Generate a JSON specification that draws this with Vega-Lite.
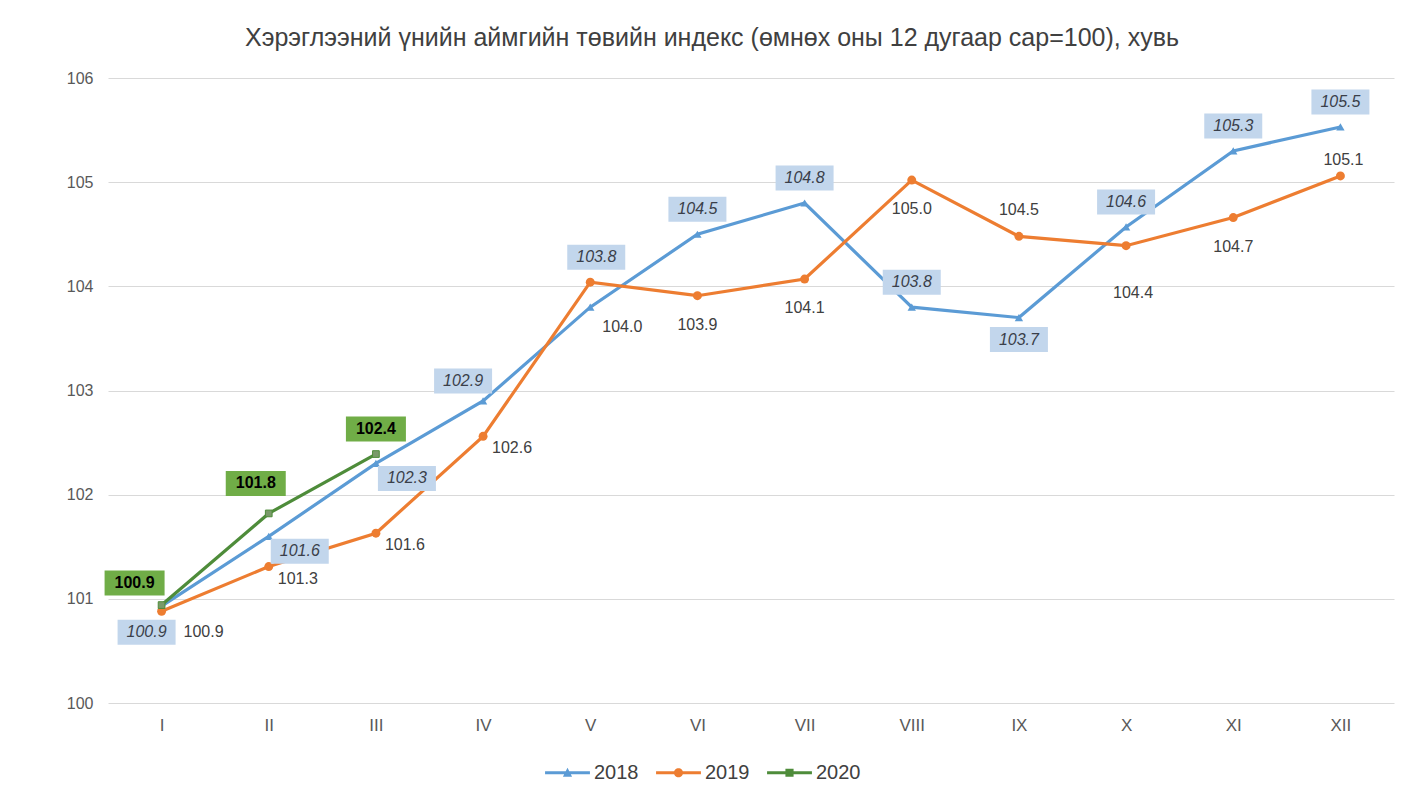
{
  "$schema": "https://vega.github.io/schema/vega-lite/v6.json",
  "width": 1286,
  "height": 625,
  "autosize": "none",
  "padding": {"left": 108, "top": 78, "right": 8, "bottom": 82},
  "background": "white",
  "config": {
    "font": "Liberation Sans",
    "view": {"stroke": null}
  },
  "title": {
    "text": "Хэрэглээний үнийн аймгийн төвийн индекс (өмнөх оны 12 дугаар сар=100), хувь",
    "fontSize": 25,
    "fontWeight": "normal",
    "color": "#404040",
    "font": "Liberation Sans",
    "anchor": "middle",
    "frame": "group",
    "dx": -39,
    "offset": 19
  },
  "data": {
    "values": [
      {"year": "2018", "m": "I", "n": 1, "v": 100.93},
      {"year": "2018", "m": "II", "n": 2, "v": 101.6},
      {"year": "2018", "m": "III", "n": 3, "v": 102.3},
      {"year": "2018", "m": "IV", "n": 4, "v": 102.9},
      {"year": "2018", "m": "V", "n": 5, "v": 103.8},
      {"year": "2018", "m": "VI", "n": 6, "v": 104.5},
      {"year": "2018", "m": "VII", "n": 7, "v": 104.8},
      {"year": "2018", "m": "VIII", "n": 8, "v": 103.8},
      {"year": "2018", "m": "IX", "n": 9, "v": 103.7},
      {"year": "2018", "m": "X", "n": 10, "v": 104.57},
      {"year": "2018", "m": "XI", "n": 11, "v": 105.3},
      {"year": "2018", "m": "XII", "n": 12, "v": 105.53},
      {"year": "2019", "m": "I", "n": 1, "v": 100.88},
      {"year": "2019", "m": "II", "n": 2, "v": 101.31},
      {"year": "2019", "m": "III", "n": 3, "v": 101.63},
      {"year": "2019", "m": "IV", "n": 4, "v": 102.56},
      {"year": "2019", "m": "V", "n": 5, "v": 104.04},
      {"year": "2019", "m": "VI", "n": 6, "v": 103.91},
      {"year": "2019", "m": "VII", "n": 7, "v": 104.07},
      {"year": "2019", "m": "VIII", "n": 8, "v": 105.02},
      {"year": "2019", "m": "IX", "n": 9, "v": 104.48},
      {"year": "2019", "m": "X", "n": 10, "v": 104.39},
      {"year": "2019", "m": "XI", "n": 11, "v": 104.66},
      {"year": "2019", "m": "XII", "n": 12, "v": 105.06},
      {"year": "2020", "m": "I", "n": 1, "v": 100.94},
      {"year": "2020", "m": "II", "n": 2, "v": 101.82},
      {"year": "2020", "m": "III", "n": 3, "v": 102.39}
    ]
  },
  "encoding": {
    "x": {
      "field": "m", "type": "ordinal",
      "sort": ["I", "II", "III", "IV", "V", "VI", "VII", "VIII", "IX", "X", "XI", "XII"],
      "scale": {"type": "point", "padding": 0.5},
      "title": null,
      "axis": {"labelAngle": 0, "ticks": false, "domain": false, "grid": false, "labelFontSize": 17, "labelColor": "#595959", "labelPadding": 14, "labelFont": "Liberation Sans"}
    },
    "y": {
      "field": "v", "type": "quantitative",
      "scale": {"domain": [100, 106], "zero": false, "nice": false},
      "title": null,
      "axis": {"values": [100, 101, 102, 103, 104, 105, 106], "format": "d", "ticks": false, "domain": false, "grid": true, "gridColor": "#D9D9D9", "gridWidth": 1, "labelFontSize": 16, "labelColor": "#595959", "labelPadding": 15, "labelFont": "Liberation Sans"}
    }
  },
  "layer": [
    {
      "mark": {"type": "line", "strokeWidth": 3.2},
      "encoding": {
        "color": {"field": "year", "type": "nominal", "scale": {"domain": ["2018", "2019", "2020"], "range": ["#5B9BD5", "#ED7D31", "#4E8C3A"]},
          "legend": {"orient": "none", "legendX": 449, "legendY": 684, "direction": "horizontal", "title": null, "padding": 0, "labelFontSize": 20, "labelColor": "#404040", "labelFont": "Liberation Sans", "symbolSize": 416, "symbolStrokeWidth": 0, "symbolOpacity": 1, "columnPadding": 17, "labelOffset": 16}},
        "order": {"field": "n", "type": "quantitative"}
      }
    },
    {
      "mark": {"type": "point", "filled": true, "opacity": 0, "size": 10},
      "encoding": {
        "color": {"field": "year", "type": "nominal"},
        "shape": {"field": "year", "type": "nominal", "scale": {"domain": ["2018", "2019", "2020"], "range": [
          "M-2.2,-0.14H2.2V0.14H-2.2Z M-0.45,0.4L0,-0.5L0.45,0.4Z",
          "M-2.2,-0.14H2.2V0.14H-2.2Z M-0.45,0A0.45,0.45 0 1,1 0.45,0A0.45,0.45 0 1,1 -0.45,0Z",
          "M-2.2,-0.14H2.2V0.14H-2.2Z M-0.4,-0.4H0.4V0.4H-0.4Z"
        ]},
          "legend": {"orient": "none", "legendX": 449, "legendY": 684, "direction": "horizontal", "title": null, "padding": 0, "labelFontSize": 20, "labelColor": "#404040", "labelFont": "Liberation Sans", "symbolSize": 416, "symbolStrokeWidth": 0, "symbolOpacity": 1, "columnPadding": 17, "labelOffset": 16}}
      }
    },
    {
      "transform": [{"filter": {"field": "year", "equal": "2018"}}],
      "mark": {"type": "point", "shape": "triangle-up", "filled": true, "size": 70, "color": "#5B9BD5", "opacity": 1}
    },
    {
      "transform": [{"filter": {"field": "year", "equal": "2019"}}],
      "mark": {"type": "point", "shape": "circle", "filled": true, "size": 80, "color": "#ED7D31", "opacity": 1}
    },
    {
      "transform": [{"filter": {"field": "year", "equal": "2020"}}],
      "mark": {"type": "point", "shape": "square", "filled": true, "size": 45, "color": "#7A9A6A", "stroke": "#4E8C3A", "strokeWidth": 1, "opacity": 1}
    },

    {"transform": [{"filter": {"and": [{"field": "year", "equal": "2018"}, {"field": "m", "oneOf": ["VI", "VII", "VIII", "X", "XI", "XII"]}]}}],
      "mark": {"type": "point", "shape": "M-2.9,-1.25H2.9V1.25H-2.9Z", "size": 400, "filled": true, "color": "#C2D6EC", "opacity": 1, "yOffset": -25}},
    {"transform": [{"filter": {"and": [{"field": "year", "equal": "2018"}, {"field": "m", "oneOf": ["VI", "VII", "VIII", "X", "XI", "XII"]}]}}],
      "mark": {"type": "text", "fontSize": 16, "fontStyle": "italic", "color": "#3A3F4A", "yOffset": -25},
      "encoding": {"text": {"field": "v", "type": "quantitative", "format": ".1f"}}},

    {"transform": [{"filter": {"and": [{"field": "year", "equal": "2018"}, {"field": "m", "equal": "IV"}]}}],
      "mark": {"type": "point", "shape": "M-2.9,-1.25H2.9V1.25H-2.9Z", "size": 400, "filled": true, "color": "#C2D6EC", "opacity": 1, "xOffset": -20, "yOffset": -20}},
    {"transform": [{"filter": {"and": [{"field": "year", "equal": "2018"}, {"field": "m", "equal": "IV"}]}}],
      "mark": {"type": "text", "fontSize": 16, "fontStyle": "italic", "color": "#3A3F4A", "xOffset": -20, "yOffset": -20},
      "encoding": {"text": {"field": "v", "type": "quantitative", "format": ".1f"}}},

    {"transform": [{"filter": {"and": [{"field": "year", "equal": "2018"}, {"field": "m", "equal": "V"}]}}],
      "mark": {"type": "point", "shape": "M-2.9,-1.25H2.9V1.25H-2.9Z", "size": 400, "filled": true, "color": "#C2D6EC", "opacity": 1, "xOffset": 6, "yOffset": -50}},
    {"transform": [{"filter": {"and": [{"field": "year", "equal": "2018"}, {"field": "m", "equal": "V"}]}}],
      "mark": {"type": "text", "fontSize": 16, "fontStyle": "italic", "color": "#3A3F4A", "xOffset": 6, "yOffset": -50},
      "encoding": {"text": {"field": "v", "type": "quantitative", "format": ".1f"}}},

    {"transform": [{"filter": {"and": [{"field": "year", "equal": "2018"}, {"field": "m", "oneOf": ["II", "III"]}]}}],
      "mark": {"type": "point", "shape": "M-2.9,-1.25H2.9V1.25H-2.9Z", "size": 400, "filled": true, "color": "#C2D6EC", "opacity": 1, "xOffset": 31, "yOffset": 15}},
    {"transform": [{"filter": {"and": [{"field": "year", "equal": "2018"}, {"field": "m", "oneOf": ["II", "III"]}]}}],
      "mark": {"type": "text", "fontSize": 16, "fontStyle": "italic", "color": "#3A3F4A", "xOffset": 31, "yOffset": 15},
      "encoding": {"text": {"field": "v", "type": "quantitative", "format": ".1f"}}},

    {"transform": [{"filter": {"and": [{"field": "year", "equal": "2018"}, {"field": "m", "equal": "I"}]}}],
      "mark": {"type": "point", "shape": "M-2.9,-1.25H2.9V1.25H-2.9Z", "size": 400, "filled": true, "color": "#C2D6EC", "opacity": 1, "xOffset": -15, "yOffset": 26}},
    {"transform": [{"filter": {"and": [{"field": "year", "equal": "2018"}, {"field": "m", "equal": "I"}]}}],
      "mark": {"type": "text", "fontSize": 16, "fontStyle": "italic", "color": "#3A3F4A", "xOffset": -15, "yOffset": 26},
      "encoding": {"text": {"field": "v", "type": "quantitative", "format": ".1f"}}},

    {"transform": [{"filter": {"and": [{"field": "year", "equal": "2018"}, {"field": "m", "equal": "IX"}]}}],
      "mark": {"type": "point", "shape": "M-2.9,-1.25H2.9V1.25H-2.9Z", "size": 400, "filled": true, "color": "#C2D6EC", "opacity": 1, "yOffset": 22}},
    {"transform": [{"filter": {"and": [{"field": "year", "equal": "2018"}, {"field": "m", "equal": "IX"}]}}],
      "mark": {"type": "text", "fontSize": 16, "fontStyle": "italic", "color": "#3A3F4A", "yOffset": 22},
      "encoding": {"text": {"field": "v", "type": "quantitative", "format": ".1f"}}},

    {"transform": [{"filter": {"and": [{"field": "year", "equal": "2019"}, {"field": "m", "equal": "I"}]}}],
      "mark": {"type": "text", "fontSize": 16, "color": "#404040", "xOffset": 42, "yOffset": 21},
      "encoding": {"text": {"field": "v", "type": "quantitative", "format": ".1f"}}},
    {"transform": [{"filter": {"and": [{"field": "year", "equal": "2019"}, {"field": "m", "oneOf": ["II", "III", "IV"]}]}}],
      "mark": {"type": "text", "fontSize": 16, "color": "#404040", "xOffset": 29, "yOffset": 12},
      "encoding": {"text": {"field": "v", "type": "quantitative", "format": ".1f"}}},
    {"transform": [{"filter": {"and": [{"field": "year", "equal": "2019"}, {"field": "m", "equal": "V"}]}}],
      "mark": {"type": "text", "fontSize": 16, "color": "#404040", "xOffset": 32, "yOffset": 45},
      "encoding": {"text": {"field": "v", "type": "quantitative", "format": ".1f"}}},
    {"transform": [{"filter": {"and": [{"field": "year", "equal": "2019"}, {"field": "m", "oneOf": ["VI", "VII", "VIII", "XI"]}]}}],
      "mark": {"type": "text", "fontSize": 16, "color": "#404040", "yOffset": 29},
      "encoding": {"text": {"field": "v", "type": "quantitative", "format": ".1f"}}},
    {"transform": [{"filter": {"and": [{"field": "year", "equal": "2019"}, {"field": "m", "equal": "IX"}]}}],
      "mark": {"type": "text", "fontSize": 16, "color": "#404040", "yOffset": -26},
      "encoding": {"text": {"field": "v", "type": "quantitative", "format": ".1f"}}},
    {"transform": [{"filter": {"and": [{"field": "year", "equal": "2019"}, {"field": "m", "equal": "X"}]}}],
      "mark": {"type": "text", "fontSize": 16, "color": "#404040", "xOffset": 7, "yOffset": 47},
      "encoding": {"text": {"field": "v", "type": "quantitative", "format": ".1f"}}},
    {"transform": [{"filter": {"and": [{"field": "year", "equal": "2019"}, {"field": "m", "equal": "XII"}]}}],
      "mark": {"type": "text", "fontSize": 16, "color": "#404040", "xOffset": 3, "yOffset": -16},
      "encoding": {"text": {"field": "v", "type": "quantitative", "format": ".1f"}}},

    {"transform": [{"filter": {"and": [{"field": "year", "equal": "2020"}, {"field": "m", "equal": "I"}]}}],
      "mark": {"type": "point", "shape": "M-3,-1.25H3V1.25H-3Z", "size": 400, "filled": true, "color": "#70AD47", "opacity": 1, "xOffset": -27, "yOffset": -22}},
    {"transform": [{"filter": {"and": [{"field": "year", "equal": "2020"}, {"field": "m", "equal": "I"}]}}],
      "mark": {"type": "text", "fontSize": 16, "fontWeight": "bold", "color": "#000000", "xOffset": -27, "yOffset": -22},
      "encoding": {"text": {"field": "v", "type": "quantitative", "format": ".1f"}}},
    {"transform": [{"filter": {"and": [{"field": "year", "equal": "2020"}, {"field": "m", "equal": "II"}]}}],
      "mark": {"type": "point", "shape": "M-3,-1.25H3V1.25H-3Z", "size": 400, "filled": true, "color": "#70AD47", "opacity": 1, "xOffset": -13, "yOffset": -30}},
    {"transform": [{"filter": {"and": [{"field": "year", "equal": "2020"}, {"field": "m", "equal": "II"}]}}],
      "mark": {"type": "text", "fontSize": 16, "fontWeight": "bold", "color": "#000000", "xOffset": -13, "yOffset": -30},
      "encoding": {"text": {"field": "v", "type": "quantitative", "format": ".1f"}}},
    {"transform": [{"filter": {"and": [{"field": "year", "equal": "2020"}, {"field": "m", "equal": "III"}]}}],
      "mark": {"type": "point", "shape": "M-3,-1.25H3V1.25H-3Z", "size": 400, "filled": true, "color": "#70AD47", "opacity": 1, "yOffset": -25}},
    {"transform": [{"filter": {"and": [{"field": "year", "equal": "2020"}, {"field": "m", "equal": "III"}]}}],
      "mark": {"type": "text", "fontSize": 16, "fontWeight": "bold", "color": "#000000", "yOffset": -25},
      "encoding": {"text": {"field": "v", "type": "quantitative", "format": ".1f"}}}
  ]
}
